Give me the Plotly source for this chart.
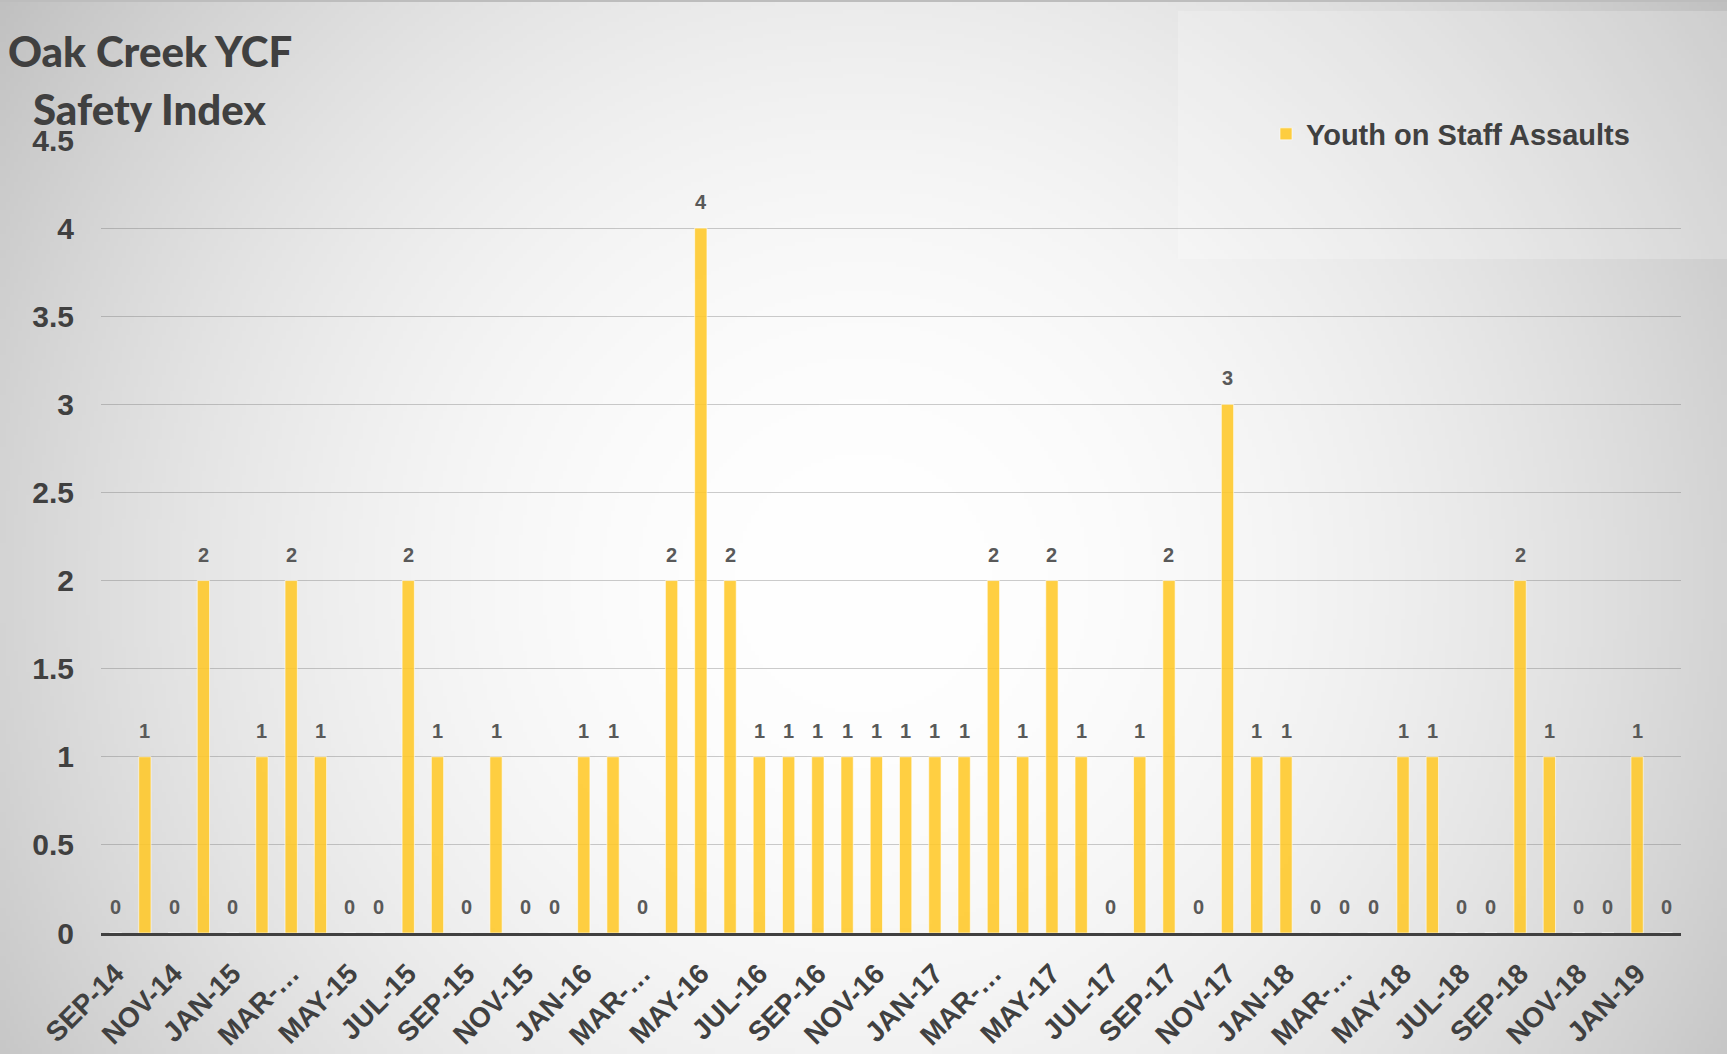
import base64, struct, zlib
import numpy as np
import plotly.graph_objects as go

# ---------------- data ----------------
months = [
    "Sep-14", "Oct-14", "Nov-14", "Dec-14", "Jan-15", "Feb-15", "Mar-15", "Apr-15",
    "May-15", "Jun-15", "Jul-15", "Aug-15", "Sep-15", "Oct-15", "Nov-15", "Dec-15",
    "Jan-16", "Feb-16", "Mar-16", "Apr-16", "May-16", "Jun-16", "Jul-16", "Aug-16",
    "Sep-16", "Oct-16", "Nov-16", "Dec-16", "Jan-17", "Feb-17", "Mar-17", "Apr-17",
    "May-17", "Jun-17", "Jul-17", "Aug-17", "Sep-17", "Oct-17", "Nov-17", "Dec-17",
    "Jan-18", "Feb-18", "Mar-18", "Apr-18", "May-18", "Jun-18", "Jul-18", "Aug-18",
    "Sep-18", "Oct-18", "Nov-18", "Dec-18", "Jan-19", "Feb-19",
]
assaults = [
    0, 1, 0, 2, 0, 1, 2, 1,
    0, 0, 2, 1, 0, 1, 0, 0,
    1, 1, 0, 2, 4, 2, 1, 1,
    1, 1, 1, 1, 1, 1, 2, 1,
    2, 1, 0, 1, 2, 0, 3, 1,
    1, 0, 0, 0, 1, 1, 0, 0,
    2, 1, 0, 0, 1, 0,
]
tick_months = months[::2]
tick_labels = [
    "SEP-14", "NOV-14", "JAN-15", "MAR-…", "MAY-15", "JUL-15", "SEP-15", "NOV-15",
    "JAN-16", "MAR-…", "MAY-16", "JUL-16", "SEP-16", "NOV-16", "JAN-17", "MAR-…",
    "MAY-17", "JUL-17", "SEP-17", "NOV-17", "JAN-18", "MAR-…", "MAY-18", "JUL-18",
    "SEP-18", "NOV-18", "JAN-19",
]
series_name = "Youth on Staff Assaults"
title_lines = ["Oak Creek YCF", "Safety Index"]

# ---------------- geometry ----------------
W, H = 1727, 1054
ML, MR, MT, MB = 101, 46, 140, 121
PW, PH = W - ML - MR, H - MT - MB

def px_x(x):
    return (x - ML) / PW

def px_y(y):
    return (H - MB - y) / PH

# ---------------- radial gradient background (PNG) ----------------
def make_png(arr):
    h, w, _ = arr.shape
    raw = b"".join(b"\x00" + arr[i].tobytes() for i in range(h))
    def chunk(tag, data):
        c = struct.pack(">I", len(data)) + tag + data
        return c + struct.pack(">I", zlib.crc32(tag + data) & 0xFFFFFFFF)
    png = b"\x89PNG\r\n\x1a\n"
    png += chunk(b"IHDR", struct.pack(">IIBBBBB", w, h, 8, 2, 0, 0, 0))
    png += chunk(b"IDAT", zlib.compress(raw, 9))
    png += chunk(b"IEND", b"")
    return "data:image/png;base64," + base64.b64encode(png).decode()

S = 4
gw, gh = W // S, H // S
yy, xx = np.mgrid[0:gh, 0:gw].astype(float)
xx = xx * S
yy = yy * S
r2 = (xx - 860) ** 2 + (yy - 580) ** 2
v = np.clip(255 - 5.8e-5 * r2, 0, 255).astype(np.uint8)
img = np.stack([v, v, v], axis=-1)
bg_uri = make_png(img)

# ---------------- figure ----------------
fig = go.Figure()
fig.add_trace(go.Bar(
    x=months, y=assaults, name=series_name,
    marker=dict(color="rgba(255,200,40,0.88)",
                line=dict(color="rgba(255,255,255,0.6)", width=1)),
    showlegend=True,
))

annotations = []
for m, val in zip(months, assaults):
    annotations.append(dict(
        x=m, y=val, xref="x", yref="y", text=str(val), showarrow=False,
        yshift=26, yanchor="middle",
        font=dict(family="Liberation Sans, Arial", size=20, color="#595959", weight="bold"),
    ))
annotations.append(dict(
    x=px_x(150), y=px_y(51), xref="paper", yref="paper", text=title_lines[0],
    showarrow=False, xanchor="center", yanchor="middle",
    font=dict(family="Lato", size=42, color="#404040", weight=900),
))
annotations.append(dict(
    x=px_x(149), y=px_y(109), xref="paper", yref="paper", text=title_lines[1],
    showarrow=False, xanchor="center", yanchor="middle",
    font=dict(family="Lato", size=42, color="#404040", weight=900),
))

shapes = [
    dict(type="rect", xref="paper", yref="paper",
         x0=px_x(1178), x1=px_x(W + 5), y0=px_y(259), y1=px_y(11),
         fillcolor="rgba(255,255,255,0.22)", line=dict(width=0), layer="below"),
    dict(type="line", xref="paper", yref="paper",
         x0=px_x(0), x1=px_x(W), y0=px_y(1), y1=px_y(1),
         line=dict(color="#BDBDBD", width=2), layer="below"),
]

fig.update_layout(
    width=W, height=H,
    margin=dict(l=ML, r=MR, t=MT, b=MB, autoexpand=False),
    paper_bgcolor="#FFFFFF",
    plot_bgcolor="rgba(0,0,0,0)",
    bargap=0.58,
    images=[dict(source=bg_uri, xref="paper", yref="paper",
                 x=px_x(0), y=px_y(0), sizex=W / PW, sizey=H / PH,
                 xanchor="left", yanchor="top", sizing="stretch", layer="below")],
    shapes=shapes,
    annotations=annotations,
    legend=dict(x=px_x(1266), y=px_y(134), xanchor="left", yanchor="middle",
                bgcolor="rgba(0,0,0,0)",
                font=dict(family="Liberation Sans, Arial", size=29, color="#404040", weight="bold")),
    xaxis=dict(
        type="category", categoryorder="array", categoryarray=months,
        tickmode="array", tickvals=tick_months, ticktext=tick_labels,
        tickangle=-45, showgrid=False, ticks="", ticklabelstandoff=10,
        showline=True, linecolor="#404040", linewidth=3,
        tickfont=dict(family="Liberation Sans, Arial", size=28, color="#404040", weight="bold"),
    ),
    yaxis=dict(
        range=[0, 4.5], tickmode="array", tickvals=[0, 0.5, 1, 1.5, 2, 2.5, 3, 3.5, 4, 4.5],
        ticktext=["0", "0.5", "1", "1.5", "2", "2.5", "3", "3.5", "4", "4.5"],
        showgrid=True, gridcolor="rgba(110,110,110,0.35)", gridwidth=1,
        zeroline=False, showline=False, ticks="", ticklabelstandoff=26,
        tickfont=dict(family="Liberation Sans, Arial", size=30, color="#404040", weight="bold"),
    ),
)

fig.write_html("out.html")
